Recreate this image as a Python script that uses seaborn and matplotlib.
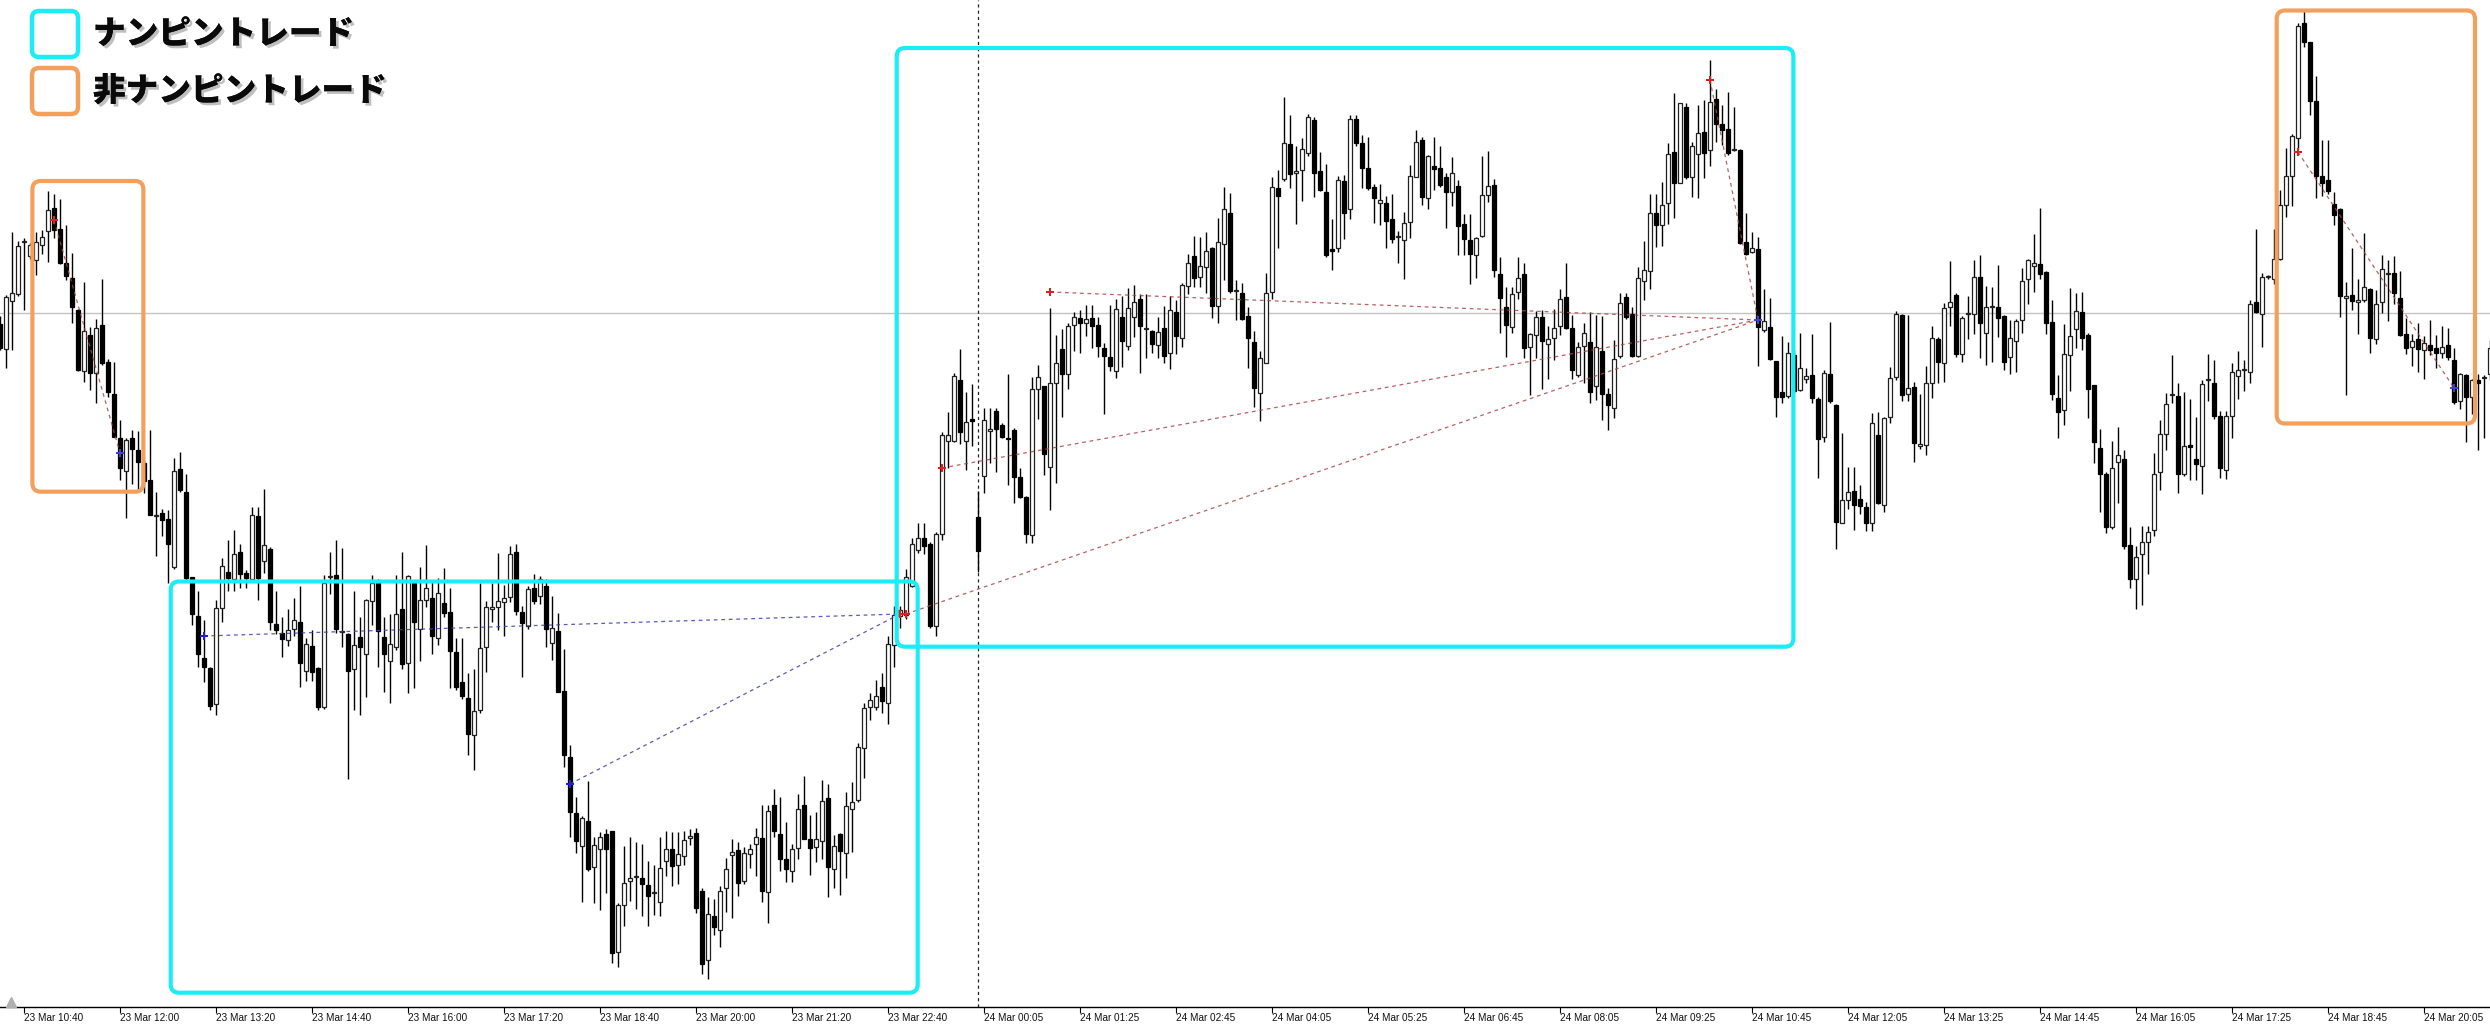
import numpy as np
import pandas as pd
import seaborn as sns
import matplotlib
matplotlib.use("Agg")
import matplotlib.pyplot as plt
from matplotlib.patches import FancyBboxPatch
import matplotlib.patheffects as pe
from matplotlib import font_manager as fm
from matplotlib.transforms import IdentityTransform

# ---------------- data (5-minute candles, price in points) ----------------
open_ = [
 676, 651, 699, 706, 758, 744, 740, 755, 769, 792,
 771, 737, 722, 690, 629, 665, 627, 675, 638, 606,
 562, 529, 562, 550, 537, 520, 484, 487, 481, 433,
 531, 508, 423, 384, 342, 332, 296, 392, 428, 421,
 448, 427, 421, 484, 439, 451, 376, 367, 360, 371,
 378, 329, 354, 332, 293, 423, 425, 368, 366, 331,
 363, 346, 399, 419, 363, 339, 353, 391, 337, 417,
 371, 400, 402, 362, 397, 388, 348, 318, 302, 265,
 290, 353, 391, 393, 398, 403, 448, 388, 374, 412,
 404, 414, 357, 369, 309, 243, 187, 154, 179, 133,
 151, 166, 169, 48, 95, 119, 123, 122, 115, 107,
 98, 139, 151, 135, 144, 162, 167, 109, 40, 84,
 70, 112, 145, 150, 119, 146, 156, 162, 108, 195,
 166, 141, 129, 152, 195, 161, 153, 159, 202, 131,
 166, 147, 191, 200, 252, 293, 293, 313, 297, 355,
 384, 385, 414, 450, 462, 456, 374, 466, 559, 559,
 620, 559, 581, 483, 524, 569, 589, 575, 562, 570,
 523, 503, 465, 611, 614, 533, 617, 651, 626, 675,
 682, 677, 682, 675, 652, 643, 629, 683, 654, 683,
 701, 671, 669, 655, 672, 647, 688, 662, 714, 744,
 723, 733, 752, 694, 756, 787, 709, 707, 684, 658,
 607, 637, 708, 812, 821, 856, 827, 830, 847, 880,
 829, 808, 751, 752, 819, 791, 881, 857, 832, 813,
 797, 797, 781, 763, 760, 778, 823, 860, 802, 834,
 832, 823, 808, 814, 776, 760, 745, 764, 805, 815,
 726, 693, 673, 708, 726, 653, 665, 683, 656, 662,
 674, 703, 672, 625, 654, 658, 614, 649, 606, 592,
 644, 703, 686, 644, 719, 729, 787, 775, 797, 848,
 817, 893, 823, 846, 868, 850, 901, 876, 871, 850,
 850, 758, 748, 751, 670, 673, 639, 608, 604, 645,
 610, 621, 625, 601, 563, 626, 595, 477, 500, 509,
 501, 493, 477, 565, 495, 583, 623, 685, 606, 613,
 554, 555, 617, 661, 637, 693, 705, 646, 686, 686,
 723, 667, 693, 693, 684, 643, 659, 680, 721, 734,
 736, 728, 678, 602, 590, 645, 671, 688, 665, 615,
 552, 526, 473, 538, 541, 455, 421, 446, 458, 470,
 528, 566, 605, 604, 526, 555, 541, 534, 620, 617,
 584, 530, 584, 624, 630, 628, 698, 686, 723, 721,
 741, 795, 824, 862, 977, 958, 899, 824, 820, 796,
 791, 702, 705, 698, 700, 711, 661, 698, 726, 727,
 702, 666, 653, 661, 650, 655, 652, 647, 655, 640,
 599, 625, 603, 620, 622, 626]

close = [
 652, 703, 707, 754, 758, 755, 758, 763, 790, 770,
 737, 724, 693, 630, 669, 627, 672, 637, 608, 563,
 532, 560, 551, 538, 519, 485, 484, 480, 456, 529,
 510, 422, 386, 346, 333, 294, 392, 434, 422, 446,
 426, 422, 485, 422, 455, 378, 370, 361, 370, 380,
 337, 356, 328, 293, 417, 424, 371, 368, 329, 355,
 353, 400, 417, 369, 346, 356, 386, 336, 424, 378,
 400, 412, 364, 407, 387, 349, 313, 304, 266, 289,
 352, 393, 393, 399, 402, 446, 389, 377, 411, 399,
 421, 371, 372, 308, 245, 188, 159, 182, 131, 155,
 163, 151, 47, 95, 117, 122, 124, 116, 104, 107,
 132, 151, 134, 146, 160, 164, 92, 36, 86, 73,
 109, 131, 148, 117, 147, 151, 163, 109, 189, 169,
 141, 131, 151, 191, 161, 152, 161, 199, 133, 154,
 149, 194, 198, 253, 292, 300, 304, 299, 356, 385,
 390, 423, 456, 462, 454, 374, 466, 565, 565, 624,
 568, 578, 579, 449, 580, 571, 571, 563, 561, 523,
 503, 466, 611, 623, 546, 617, 637, 626, 674, 683,
 677, 681, 674, 654, 644, 634, 691, 659, 692, 698,
 674, 671, 656, 668, 644, 690, 664, 715, 737, 722,
 734, 749, 694, 758, 791, 709, 709, 681, 662, 612,
 642, 707, 813, 804, 857, 826, 829, 851, 883, 827,
 810, 745, 749, 820, 787, 881, 857, 832, 812, 802,
 800, 779, 761, 763, 777, 824, 858, 803, 844, 831,
 815, 808, 827, 774, 761, 746, 762, 805, 814, 730,
 702, 675, 706, 722, 652, 666, 683, 659, 661, 672,
 701, 672, 630, 653, 667, 608, 653, 606, 595, 641,
 697, 683, 644, 722, 730, 787, 775, 795, 846, 817,
 897, 823, 854, 867, 847, 898, 876, 870, 847, 850,
 757, 746, 752, 673, 679, 641, 603, 603, 647, 609,
 632, 624, 602, 561, 627, 599, 478, 500, 508, 495,
 494, 477, 577, 497, 582, 622, 686, 605, 612, 557,
 556, 617, 662, 638, 692, 698, 646, 682, 686, 723,
 677, 693, 694, 682, 638, 662, 679, 719, 740, 737,
 726, 677, 606, 588, 646, 664, 689, 662, 611, 558,
 526, 473, 532, 545, 454, 421, 443, 458, 468, 526,
 566, 596, 605, 526, 554, 553, 536, 616, 620, 584,
 532, 584, 628, 630, 631, 696, 688, 723, 723, 741,
 795, 824, 864, 974, 958, 899, 824, 817, 809, 785,
 704, 704, 699, 700, 713, 662, 696, 731, 727, 707,
 665, 652, 659, 651, 657, 650, 647, 653, 643, 598,
 626, 603, 620, 617, 623, 652]

high = [
 684, 705, 768, 759, 762, 757, 768, 770, 809, 806,
 801, 775, 747, 691, 718, 673, 681, 721, 641, 638,
 580, 562, 570, 569, 540, 570, 508, 491, 490, 542,
 548, 526, 423, 409, 380, 333, 400, 442, 460, 470,
 456, 430, 493, 493, 511, 453, 409, 383, 391, 402,
 414, 362, 370, 333, 425, 448, 460, 452, 367, 409,
 383, 401, 425, 421, 383, 386, 425, 448, 425, 419,
 433, 455, 419, 422, 432, 412, 362, 362, 327, 331,
 417, 399, 417, 447, 415, 454, 456, 394, 414, 426,
 424, 421, 404, 387, 351, 255, 203, 184, 219, 163,
 168, 171, 169, 97, 154, 163, 158, 156, 139, 135,
 163, 169, 168, 168, 169, 171, 172, 112, 103, 101,
 114, 142, 161, 158, 153, 156, 172, 195, 195, 211,
 203, 178, 156, 206, 224, 185, 188, 220, 216, 165,
 167, 208, 218, 257, 297, 307, 320, 327, 364, 394,
 394, 431, 462, 477, 477, 458, 468, 568, 588, 627,
 651, 608, 616, 509, 592, 592, 592, 577, 626, 572,
 532, 504, 623, 635, 614, 692, 665, 671, 677, 688,
 690, 695, 695, 683, 657, 695, 701, 704, 712, 715,
 706, 706, 670, 683, 694, 704, 700, 717, 746, 764,
 763, 768, 753, 782, 813, 807, 720, 717, 693, 669,
 649, 727, 823, 830, 903, 885, 854, 862, 886, 883,
 848, 836, 781, 824, 825, 885, 885, 865, 863, 816,
 816, 804, 806, 769, 788, 835, 870, 863, 845, 863,
 854, 827, 843, 820, 786, 786, 763, 844, 849, 821,
 743, 713, 713, 743, 737, 667, 689, 690, 674, 691,
 711, 737, 685, 658, 677, 688, 685, 684, 612, 660,
 707, 707, 693, 733, 759, 806, 806, 818, 857, 907,
 897, 897, 858, 895, 900, 940, 911, 895, 908, 893,
 851, 787, 768, 763, 711, 702, 639, 664, 658, 650,
 667, 632, 666, 603, 630, 678, 596, 567, 533, 533,
 515, 498, 587, 588, 583, 633, 689, 686, 685, 618,
 606, 634, 674, 663, 697, 739, 707, 684, 704, 740,
 745, 714, 713, 735, 685, 680, 681, 732, 741, 766,
 792, 729, 700, 625, 676, 712, 707, 708, 667, 615,
 571, 528, 559, 573, 550, 473, 454, 474, 474, 547,
 580, 607, 645, 617, 608, 601, 583, 620, 646, 640,
 589, 589, 637, 649, 640, 700, 771, 727, 725, 771,
 810, 852, 866, 977, 989, 958, 924, 860, 860, 808,
 792, 718, 752, 721, 767, 712, 710, 745, 740, 744,
 729, 682, 666, 677, 664, 680, 665, 674, 672, 652,
 627, 626, 621, 626, 625, 660]

low = [
 650, 632, 650, 704, 690, 741, 725, 746, 738, 762,
 736, 720, 677, 629, 618, 610, 597, 635, 603, 563,
 520, 482, 516, 511, 507, 485, 444, 464, 417, 431,
 508, 419, 375, 333, 318, 290, 285, 378, 409, 409,
 412, 412, 419, 400, 427, 370, 366, 343, 354, 364,
 313, 319, 319, 290, 291, 406, 367, 353, 221, 290,
 285, 303, 375, 333, 308, 297, 350, 331, 307, 312,
 339, 393, 346, 355, 383, 312, 310, 301, 245, 230,
 287, 328, 378, 370, 364, 398, 385, 323, 371, 396,
 396, 353, 340, 308, 233, 163, 147, 98, 129, 97,
 90, 107, 37, 33, 74, 99, 91, 84, 74, 85,
 84, 124, 114, 116, 135, 155, 87, 26, 21, 65,
 53, 88, 82, 104, 116, 132, 124, 98, 77, 163,
 129, 118, 118, 141, 161, 125, 138, 141, 103, 112,
 105, 122, 148, 198, 222, 280, 290, 287, 276, 333,
 372, 381, 413, 447, 446, 372, 364, 460, 532, 558,
 556, 530, 554, 428, 507, 537, 528, 562, 515, 497,
 502, 457, 457, 581, 525, 490, 517, 583, 611, 649,
 647, 664, 652, 643, 586, 629, 622, 633, 650, 663,
 627, 642, 647, 642, 637, 631, 646, 653, 706, 713,
 713, 707, 682, 677, 720, 707, 680, 680, 632, 593,
 579, 637, 701, 752, 819, 812, 776, 799, 844, 803,
 809, 743, 730, 748, 761, 781, 854, 812, 810, 777,
 775, 752, 757, 737, 721, 762, 823, 795, 791, 810,
 813, 772, 794, 745, 745, 716, 722, 763, 798, 723,
 667, 643, 667, 701, 642, 605, 642, 611, 621, 640,
 665, 671, 621, 623, 617, 597, 600, 580, 570, 582,
 642, 681, 643, 643, 700, 711, 753, 754, 776, 782,
 817, 821, 803, 802, 822, 834, 858, 855, 845, 849,
 756, 745, 747, 634, 668, 640, 583, 597, 602, 607,
 609, 617, 597, 522, 558, 597, 451, 477, 491, 470,
 486, 469, 469, 496, 488, 577, 620, 599, 599, 538,
 551, 545, 602, 617, 618, 674, 643, 638, 661, 666,
 642, 635, 638, 663, 630, 626, 628, 667, 696, 708,
 721, 666, 600, 562, 575, 609, 652, 650, 582, 537,
 488, 467, 471, 497, 451, 412, 391, 395, 426, 464,
 510, 550, 597, 507, 524, 520, 520, 506, 599, 581,
 522, 521, 562, 601, 609, 617, 687, 653, 721, 716,
 740, 783, 794, 851, 953, 885, 802, 804, 806, 775,
 683, 605, 690, 666, 698, 647, 656, 687, 679, 696,
 664, 646, 634, 628, 621, 645, 632, 642, 640, 596,
 591, 558, 586, 550, 562, 620]

tick_labels = [
 "23 Mar 10:40", "23 Mar 12:00", "23 Mar 13:20", "23 Mar 14:40", "23 Mar 16:00",
 "23 Mar 17:20", "23 Mar 18:40", "23 Mar 20:00", "23 Mar 21:20", "23 Mar 22:40",
 "24 Mar 00:05", "24 Mar 01:25", "24 Mar 02:45", "24 Mar 04:05", "24 Mar 05:25",
 "24 Mar 06:45", "24 Mar 08:05", "24 Mar 09:25", "24 Mar 10:45", "24 Mar 12:05",
 "24 Mar 13:25", "24 Mar 14:45", "24 Mar 16:05", "24 Mar 17:25", "24 Mar 18:45",
 "24 Mar 20:05"]

# trades: side, entry bar, entry price, exit bar, exit price
trade_side = ["sell", "buy", "buy", "sell", "sell", "sell", "sell", "sell"]
trade_in_bar = [9, 34, 95, 151, 157, 175, 285, 383]
trade_in_px = [780, 364, 216, 386, 532, 708, 920, 848]
trade_out_bar = [20, 150, 150, 293, 293, 293, 293, 409]
trade_out_px = [547, 386, 386, 680, 680, 680, 680, 612]

# highlighted trade groups
group_kind = ["非ナンピントレード", "ナンピントレード", "ナンピントレード", "非ナンピントレード"]
group_bar0 = [5.4, 28.45, 149.45, 379.45]
group_bar1 = [23.9, 152.95, 298.9, 412.5]
group_top = [819, 418.5, 952, 989.5]
group_bottom = [508.3, 7.3, 353.3, 576.5]

bid_level = 687
session_bar = 163

# ---------------- styling ----------------
sns.set_theme(style="white")
plt.rcParams["font.family"] = ["Noto Sans CJK JP", "DejaVu Sans"]

CYAN = "#1CECF6"
ORANGE = "#F2A05C"
kind_color = {"ナンピントレード": CYAN, "非ナンピントレード": ORANGE}

names = {f.name for f in fm.fontManager.ttflist}
if "Liberation Sans Narrow" in names:
    tick_font, tick_size = "Liberation Sans Narrow", 8.6
else:
    tick_font, tick_size = "Liberation Sans", 7.2

W, H = 2490, 1026
fig = plt.figure(figsize=(W / 100, H / 100), dpi=100)
fig.patch.set_facecolor("white")
axis_y = 1007
ax = fig.add_axes([0, 1 - axis_y / H, 1, axis_y / H])
ax.set_facecolor("white")

df = pd.DataFrame({"open": open_, "high": high, "low": low, "close": close})
df["bar"] = np.arange(len(df))
up = df["close"] >= df["open"]

# grid lines
ax.axhline(bid_level, color="#C4C4C4", lw=1.0, zorder=0)
ax.axvline(session_bar, color="#222222", lw=0.9, ls=(0, (2.5, 2.5)), zorder=0)

# wicks
ax.vlines(df["bar"], df["low"], df["high"], color="black", lw=1.0, zorder=2)
# bodies
body_lo = np.minimum(df["open"], df["close"])
body_h = np.maximum(np.abs(df["close"] - df["open"]), 1.0)
ax.bar(df["bar"][up], body_h[up], bottom=body_lo[up], width=0.62,
       color="white", edgecolor="#202020", linewidth=0.9, zorder=3)
ax.bar(df["bar"][~up], body_h[~up], bottom=body_lo[~up], width=0.62,
       color="black", edgecolor="black", linewidth=0.9, zorder=3)

# trade lines
for s, b0, p0, b1, p1 in zip(trade_side, trade_in_bar, trade_in_px, trade_out_bar, trade_out_px):
    c = "#4040A8" if s == "buy" else "#A84848"
    ax.plot([b0, b1], [p0, p1], color=c, lw=0.9, ls=(0, (3, 3)), alpha=0.85, zorder=4)

marks = pd.DataFrame({
    "bar": trade_in_bar + trade_out_bar,
    "price": trade_in_px + trade_out_px,
    "kind": [("entry-" + s) for s in trade_side] + [("exit-" + s) for s in trade_side],
})
palette = {"entry-sell": "#E02020", "entry-buy": "#2020D0",
           "exit-sell": "#4040D0", "exit-buy": "#E02020"}
sns.scatterplot(data=marks, x="bar", y="price", hue="kind", palette=palette,
                marker="P", s=26, linewidth=0, legend=False, ax=ax, zorder=6)

# highlight boxes
for k, b0, b1, t, btm in zip(group_kind, group_bar0, group_bar1, group_top, group_bottom):
    ax.add_patch(FancyBboxPatch((b0, btm), b1 - b0, t - btm,
                                boxstyle="round,pad=0,rounding_size=1.4",
                                mutation_aspect=6, fc="none", ec=kind_color[k],
                                lw=3.0, zorder=7, clip_on=False))

# axes
ax.set_xlim(0, 415)
ax.set_ylim(-7, 1000)
for sp in ["left", "right", "top"]:
    ax.spines[sp].set_visible(False)
ax.spines["bottom"].set_color("black")
ax.spines["bottom"].set_linewidth(1.0)
ax.set_yticks([])
ticks = [4 + 16 * k for k in range(len(tick_labels))]
ax.set_xticks(ticks)
ax.set_xticklabels(tick_labels, fontsize=tick_size, family=tick_font, color="#111111", ha="left")
ax.tick_params(axis="x", direction="out", length=4, width=0.8, color="black", pad=0.5, bottom=True)
ax.set_xlabel("")
ax.set_ylabel("")
ax.plot([1.9], [-2], marker="^", color="#B0B0B0", ms=7, clip_on=False, zorder=8)

# legend (top-left)
shadow = [pe.withSimplePatchShadow(offset=(2, -2), shadow_rgbFace=(0.45, 0.45, 0.45), alpha=0.45),
          pe.Normal()]
leg = [("ナンピントレード", CYAN, 34), ("非ナンピントレード", ORANGE, 91)]
for txt, col, yc in leg:
    fig.add_artist(FancyBboxPatch((32, H - yc - 23), 46, 46,
                                  boxstyle="round,pad=0,rounding_size=7",
                                  fc="white", ec=col, lw=3.2,
                                  transform=IdentityTransform(), zorder=10))
    fig.text(93 / W, 1 - yc / H, txt, fontsize=23.5, fontweight="black",
             family=["Noto Sans CJK JP", "DejaVu Sans"], color="#0A0A0A",
             ha="left", va="center", path_effects=shadow, zorder=11)

fig.savefig("out.png", dpi=100, facecolor="white")
